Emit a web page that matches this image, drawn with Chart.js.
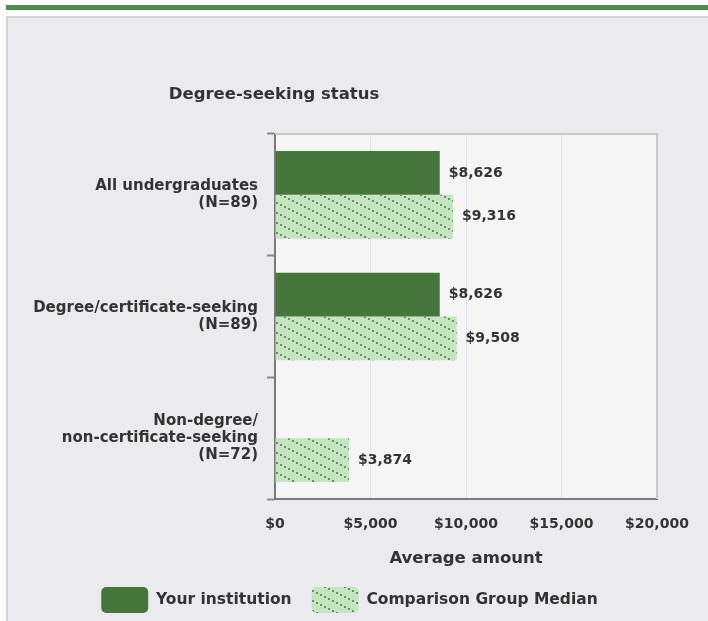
<!DOCTYPE html>
<html lang="en">
<head>
  <meta charset="UTF-8">
  <title>Degree-seeking status</title>
  <script src="https://cdn.jsdelivr.net/npm/chart.js@4/dist/chart.umd.min.js"></script>
  <style>
    html, body { margin: 0; padding: 0; background: #fff; width: 708px; height: 621px; overflow: hidden; }
    #topbar { position: absolute; left: 6px; top: 5px; width: 702px; height: 5px; background: #4e8a4c; }
    #panel { position: absolute; left: 6px; top: 16px; width: 702px; height: 605px; overflow: hidden;
             border-left: 2px solid #d4d4d4; border-top: 2px solid #d4d4d4; background: #ebebef; }
    #chart-canvas { position: absolute; left: 0; top: 0; }
  </style>
</head>
<body>
  <div id="topbar"></div>
  <div id="panel">
    <canvas id="chart-canvas" width="700" height="613"></canvas>
  </div>
  <script>
    const chartTitle = 'Degree-seeking status';
    const categories = [
      ['All undergraduates', '(N=89)'],
      ['Degree/certificate-seeking', '(N=89)'],
      ['Non-degree/', 'non-certificate-seeking', '(N=72)']
    ];
    const yourInstitution = [8626, 8626, null];
    const comparisonMedian = [9316, 9508, 3874];
    const xTicks = [0, 5000, 10000, 15000, 20000];
    const xTitle = 'Average amount';

    const FONT = '"DejaVu Sans", Verdana, sans-serif';
    const darkGreen = '#46763e';

    function money(v) {
      return '$' + v.toLocaleString('en-US');
    }

    // dotted diagonal hatch on light green
    function hatch() {
      const c = document.createElement('canvas');
      c.width = 20; c.height = 10;
      const g = c.getContext('2d');
      g.fillStyle = '#c6e4c2';
      g.fillRect(0, 0, 20, 10);
      g.fillStyle = '#5c9a55';
      [[0, 0], [4, 2], [8, 4], [12, 6], [16, 8]].forEach(p => g.fillRect(p[0], p[1], 2, 2));
      return g.createPattern(c, 'repeat');
    }

    const plotBox = {
      id: 'plotBox',
      afterLayout(chart) {
        // legend sits a little right of the canvas centre
        chart.legend.left += 17;
        chart.legend.right += 17;
      },
      beforeDraw(chart) {
        const { ctx, chartArea: a } = chart;
        ctx.save();
        ctx.fillStyle = '#f5f5f5';
        ctx.fillRect(a.left, a.top, a.right - a.left, a.bottom - a.top);
        ctx.restore();
      },
      afterDraw(chart) {
        const { ctx, chartArea: a } = chart;
        ctx.save();
        ctx.strokeStyle = '#c8c8c8';
        ctx.lineWidth = 2;
        ctx.beginPath();
        ctx.moveTo(a.left, a.top);
        ctx.lineTo(a.right, a.top);
        ctx.lineTo(a.right, a.bottom);
        ctx.stroke();
        ctx.font = 'bold 16.5px ' + FONT;
        ctx.fillStyle = '#333';
        ctx.textAlign = 'center';
        ctx.textBaseline = 'middle';
        ctx.fillText(chartTitle, a.left - 1, 77);
        ctx.restore();
      }
    };

    const valueLabels = {
      id: 'valueLabels',
      afterDatasetsDraw(chart) {
        const ctx = chart.ctx;
        ctx.save();
        ctx.font = 'bold 14px ' + FONT;
        ctx.fillStyle = '#333';
        ctx.textBaseline = 'middle';
        chart.data.datasets.forEach((ds, i) => {
          chart.getDatasetMeta(i).data.forEach((bar, j) => {
            const v = ds.data[j];
            if (v == null) return;
            ctx.fillText(money(v), bar.x + 9, bar.y);
          });
        });
        ctx.restore();
      }
    };

    Chart.defaults.color = '#333';
    Chart.defaults.font.family = FONT;

    const ctx = document.getElementById('chart-canvas').getContext('2d');
    new Chart(ctx, {
      type: 'bar',
      data: {
        labels: categories,
        datasets: [
          { label: 'Your institution', data: yourInstitution, backgroundColor: darkGreen },
          { label: 'Comparison Group Median', data: comparisonMedian, backgroundColor: hatch() }
        ]
      },
      options: {
        indexAxis: 'y',
        responsive: false,
        animation: false,
        categoryPercentage: 0.72,
        barPercentage: 1,
        layout: { padding: { top: 116, left: 0, right: 51, bottom: 8 } },
        scales: {
          x: {
            min: 0,
            max: 20000,
            afterBuildTicks: s => { s.ticks = xTicks.map(v => ({ value: v })); },
            afterFit: s => { s.height = 68; },
            grid: { color: '#dde1ee', drawTicks: false },
            border: { color: '#7a7a7a', width: 2 },
            ticks: { padding: 17, font: { size: 14, weight: 'bold' }, callback: v => money(v) },
            title: { display: true, text: xTitle, font: { size: 16.5, weight: 'bold', lineHeight: 1 }, padding: 0 }
          },
          y: {
            afterFit: s => { s.width = 267; },
            grid: { drawOnChartArea: false, offset: true, tickLength: 8, tickColor: '#8a8a8a', tickWidth: 2 },
            border: { color: '#7a7a7a', width: 2 },
            ticks: { padding: 9, font: { size: 15, weight: 'bold', lineHeight: 1.15 } }
          }
        },
        plugins: {
          legend: {
            position: 'bottom',
            labels: {
              boxWidth: 47,
              boxHeight: 26,
              padding: 20,
              useBorderRadius: true,
              borderRadius: 5,
              font: { size: 15.5, weight: 'bold' }
            }
          },
          tooltip: { enabled: false }
        }
      },
      plugins: [plotBox, valueLabels]
    });
  </script>
</body>
</html>
